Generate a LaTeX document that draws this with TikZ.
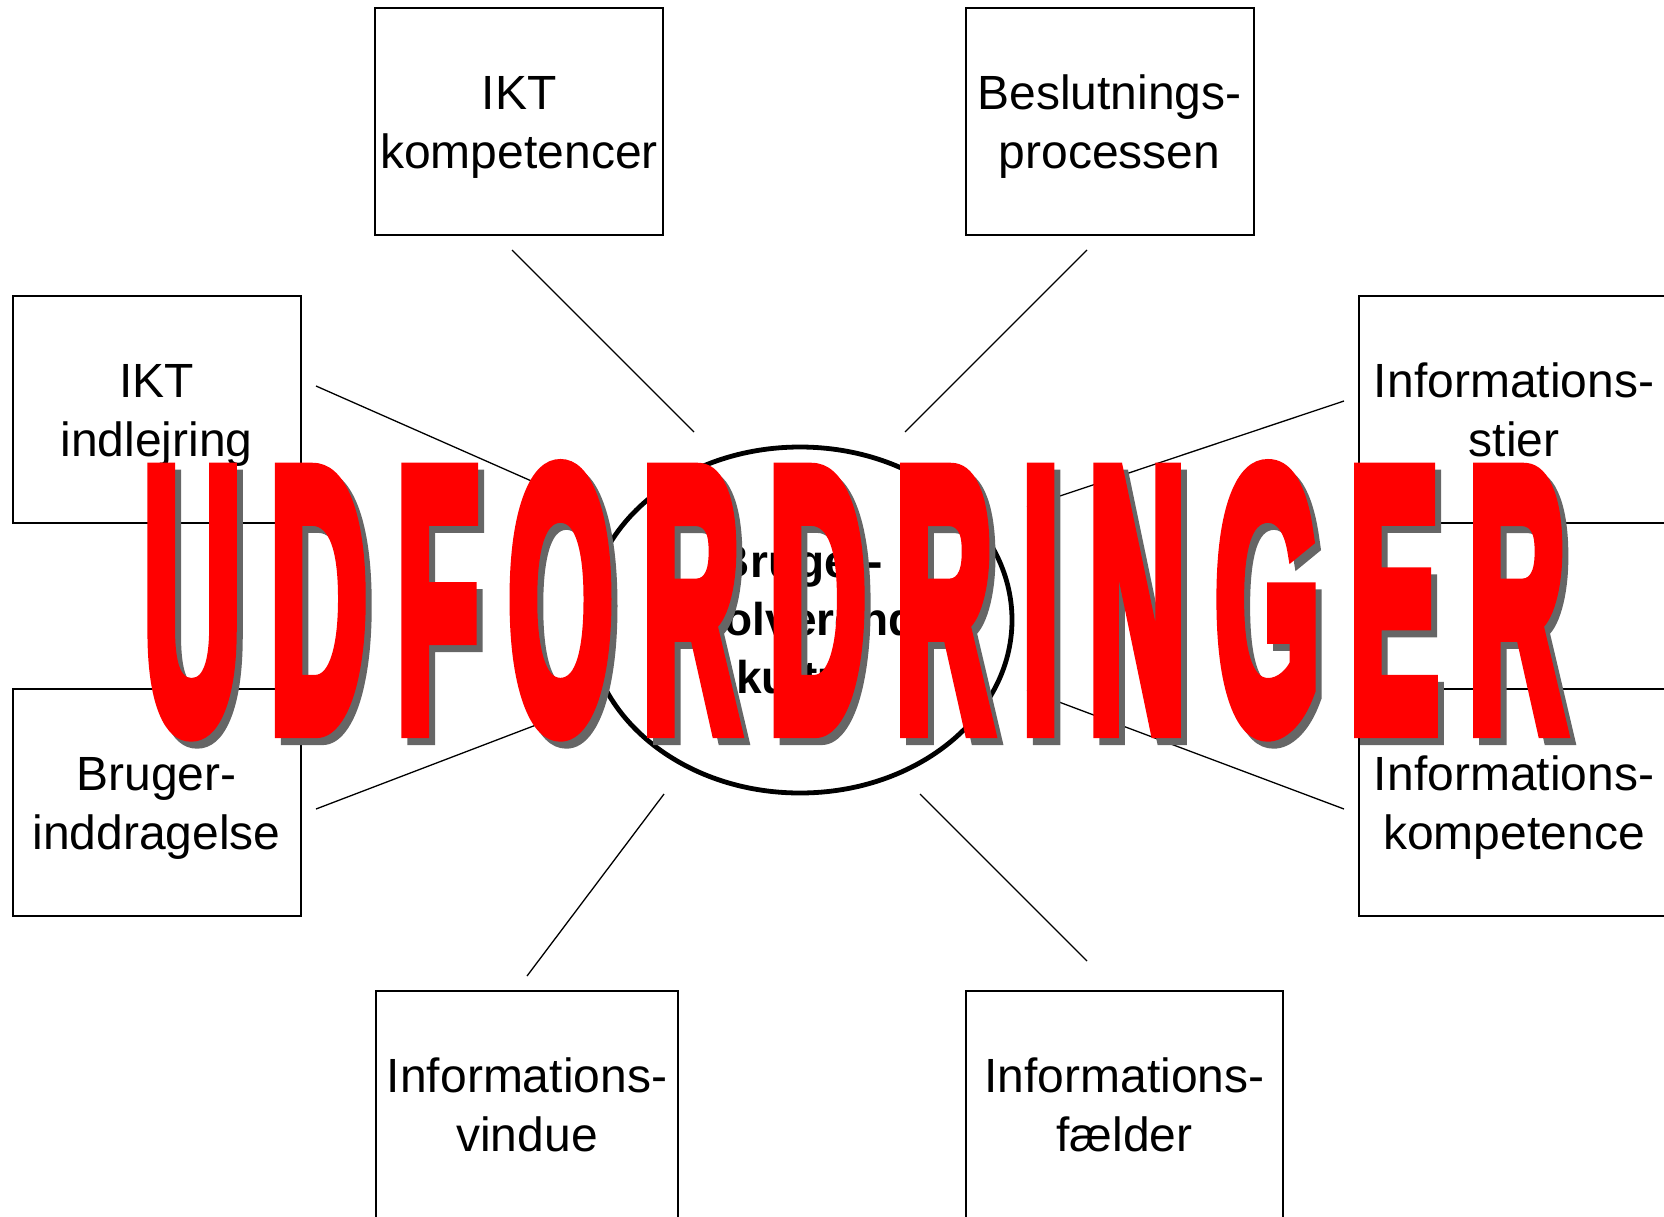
\documentclass[tikz,border=0pt]{standalone}
\usepackage{fontspec}
\setmainfont{Liberation Sans}
\newfontface\wordart[FakeBold=6,LetterSpace=21.5]{Liberation Sans Bold}
\usetikzlibrary{positioning, shapes.geometric}

\begin{document}
\begin{tikzpicture}[x=0.5pt,y=-0.5pt,on grid,
      every node/.style={align=center},
      box/.style={draw,line width=1pt,minimum width=144pt,minimum height=113.5pt,inner sep=0pt,
        text height=53.4pt,text depth=6pt,font=\fontsize{24}{29.5}\selectfont},
      core/.style={ellipse,draw,line width=2.4pt,minimum width=212pt,minimum height=173pt,inner sep=0pt,
        font=\bfseries\fontsize{23}{29}\selectfont},
      spoke/.style={line width=0.65pt},
      banner/.style={inner sep=0pt,anchor=base west,font=\wordart\fontsize{184}{184}\selectfont}]
  \useasboundingbox (0,0) rectangle (1664,1216);
  \node[core] (core) at (800,620) {Bruger-\\involverende\\kultur};
  \node[box] (ikt_k)  [above left=249.5pt and 140.5pt of core] {IKT\\kompetencer};
  \node[box] (beslut) [above right=249.5pt and 154.75pt of core] {Beslutnings-\\processen};
  \node[box] (ikt_i)  [above left=105.5pt and 321.75pt of core] {IKT\\indlejring};
  \node[box,minimum width=155pt] (stier) [above right=105.5pt and 357pt of core] {Informations-\\stier};
  \node[box] (bruger) [below left=91pt and 321.75pt of core] {Bruger-\\inddragelse};
  \node[box,minimum width=155pt] (komp) [below right=91pt and 357pt of core] {Informations-\\kompetence};
  \node[box,minimum width=151pt] (vindue) [below left=242pt and 136.5pt of core] {Informations-\\vindue};
  \node[box,minimum width=158.5pt] (faelder) [below right=242pt and 162.25pt of core] {Informations-\\f\ae lder};
  % free ends of the spokes
  \coordinate (s_1) at (512,250);   \coordinate (t_1) at (694,432);
  \coordinate (s_2) at (1087,250);  \coordinate (t_2) at (905,432);
  \coordinate (s_3) at (316,386);   \coordinate (t_3) at (536,483);
  \coordinate (s_4) at (1344,401);  \coordinate (t_4) at (1027,507);
  \coordinate (s_5) at (316,809);   \coordinate (t_5) at (536,725);
  \coordinate (s_6) at (1344,809);  \coordinate (t_6) at (1027,690);
  \coordinate (s_7) at (527,976);   \coordinate (t_7) at (664,794);
  \coordinate (s_8) at (1087,961);  \coordinate (t_8) at (920,794);
  \foreach \i in {1,...,8}
    \draw[spoke] (s_\i) -- (t_\i);
  \node[banner,text=black!60] (shadow) at (149,734) {\scalebox{0.367}[1]{UDFORDRINGER}};
  \node[banner,text=red] (title) at (143,727) {\scalebox{0.367}[1]{UDFORDRINGER}};
\end{tikzpicture}
\end{document}
